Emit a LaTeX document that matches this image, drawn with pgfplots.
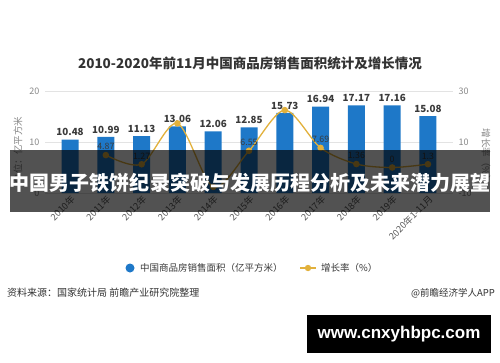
\documentclass[border=0pt]{standalone}
\usepackage{pgfplots}
\pgfplotsset{compat=1.18}
\usepackage{fontspec}
\setmainfont{Noto Sans CJK SC}
\newfontfamily\latinfont{Liberation Sans}
\definecolor{barblue}{HTML}{1E78C8}
\definecolor{linegold}{HTML}{E2B13C}
\definecolor{titlegray}{HTML}{333333}
\definecolor{labelgray}{HTML}{3A3A3A}
\definecolor{tickgray}{HTML}{888888}
\definecolor{xtickgray}{HTML}{5A5A5A}
\definecolor{gridgray}{HTML}{E3E3E3}
\pgfplotsset{/pgf/number format/assume math mode=true}
\begin{document}
\begin{tikzpicture}[x=1bp,y=1bp]
\path[use as bounding box] (0,0) rectangle (500,362);
\fill[white] (0,0) rectangle (500,362);
\node[font=\fontsize{13.5bp}{16bp}\selectfont\bfseries, text=titlegray] at (250,299) {2010-2020年前11月中国商品房销售面积统计及增长情况};

\begin{axis}[
  at={(45bp,169bp)}, anchor=south west, scale only axis,
  width=408bp, height=102bp,
  xmin=-0.7, xmax=10.7, ymin=0, ymax=20,
  ytick={0,10,20},
  axis x line*=bottom, axis y line*=left,
  x axis line style={draw=gridgray},
  y axis line style={draw=none},
  ymajorgrids, grid style={draw=gridgray, line width=0.6bp},
  major y tick style={draw=none},
  xtick={0,...,10},
  xticklabels={2010年,2011年,2012年,2013年,2014年,2015年,2016年,2017年,2018年,2019年,2020年1-11月},
  x tick label style={rotate=45, anchor=north east, font=\fontsize{9.2bp}{10bp}\selectfont, text=xtickgray, inner sep=1bp},
  major x tick style={draw=tickgray},
  major tick length=3bp,
  y tick label style={font=\fontsize{9bp}{10bp}\selectfont, text=tickgray},
  yticklabel style={xshift=-2bp},
  clip=false,
]
\addplot[ybar, bar width=17bp, fill=barblue, draw=none,
  nodes near coords,
  nodes near coords style={font=\fontsize{9.8bp}{11bp}\selectfont\bfseries, text=labelgray, /pgf/number format/precision=2, /pgf/number format/fixed, /pgf/number format/fixed zerofill},
] coordinates {(0,10.48) (1,10.99) (2,11.13) (3,13.06) (4,12.06) (5,12.85) (6,15.73) (7,16.94) (8,17.17) (9,17.16) (10,15.08)};
\end{axis}

\begin{axis}[
  at={(45bp,169bp)}, anchor=south west, scale only axis,
  width=408bp, height=102bp,
  xmin=-0.7, xmax=10.7, ymin=-10, ymax=30,
  ytick={-10,10,30},
  axis x line=none, axis y line*=right,
  y axis line style={draw=none},
  major y tick style={draw=none},
  y tick label style={font=\fontsize{9bp}{10bp}\selectfont, text=tickgray},
  yticklabel style={xshift=2bp},
  clip=false,
]
\addplot[smooth, color=linegold, line width=1.3bp, mark=*, mark size=2.6bp,
  mark options={fill=linegold, draw=linegold},
  point meta=explicit symbolic,
  nodes near coords,
  nodes near coords style={font=\fontsize{8.8bp}{10bp}\selectfont, text=labelgray, yshift=1bp},
] coordinates {(1,4.87)[4.87] (2,1.27)[1.27] (3,17.3)[] (4,-7.6)[] (5,6.55)[6.55] (6,22.5)[] (7,7.69)[7.69] (8,1.36)[1.36] (9,0)[0] (10,1.3)[1.3]};
\end{axis}

\node[rotate=90, font=\fontsize{9.5bp}{11bp}\selectfont, text=tickgray] at (18,212) {单位：亿平方米};
\node[rotate=-90, font=\fontsize{9.5bp}{11bp}\selectfont, text=tickgray] at (486,205) {增长率（\%）};

% legend
\fill[barblue] (130,94) circle (4.5);
\node[anchor=west, font=\fontsize{9.5bp}{11bp}\selectfont, text=labelgray, inner sep=0] at (140,94) {中国商品房销售面积（亿平方米）};
\draw[linegold, line width=1.3bp] (300,94) -- (316,94);
\fill[linegold] (308,94) circle (3.2);
\node[anchor=west, font=\fontsize{9.5bp}{11bp}\selectfont, text=labelgray, inner sep=0] at (321,94) {增长率（\%）};

% source
\node[anchor=west, font=\fontsize{10bp}{12bp}\selectfont, text=titlegray, inner sep=0] at (7,69) {资料来源：国家统计局 前瞻产业研究院整理};
\node[anchor=east, font=\fontsize{9.5bp}{12bp}\selectfont, text=titlegray, inner sep=0] at (495,69) {@前瞻经济学人APP};

% banner overlay
\fill[black, fill opacity=0.68] (10,150) rectangle (490,212);
\node[text=white, font=\fontsize{20bp}{24bp}\selectfont\bfseries] at (250,179) {中国男子铁饼纪录突破与发展历程分析及未来潜力展望};

% bottom box
\fill[black] (307,9) rectangle (491,47);
\node[text=white, font=\latinfont\bfseries\fontsize{17bp}{20bp}\selectfont] at (399,28) {www.cnxyhbpc.com};
\end{tikzpicture}
\end{document}
